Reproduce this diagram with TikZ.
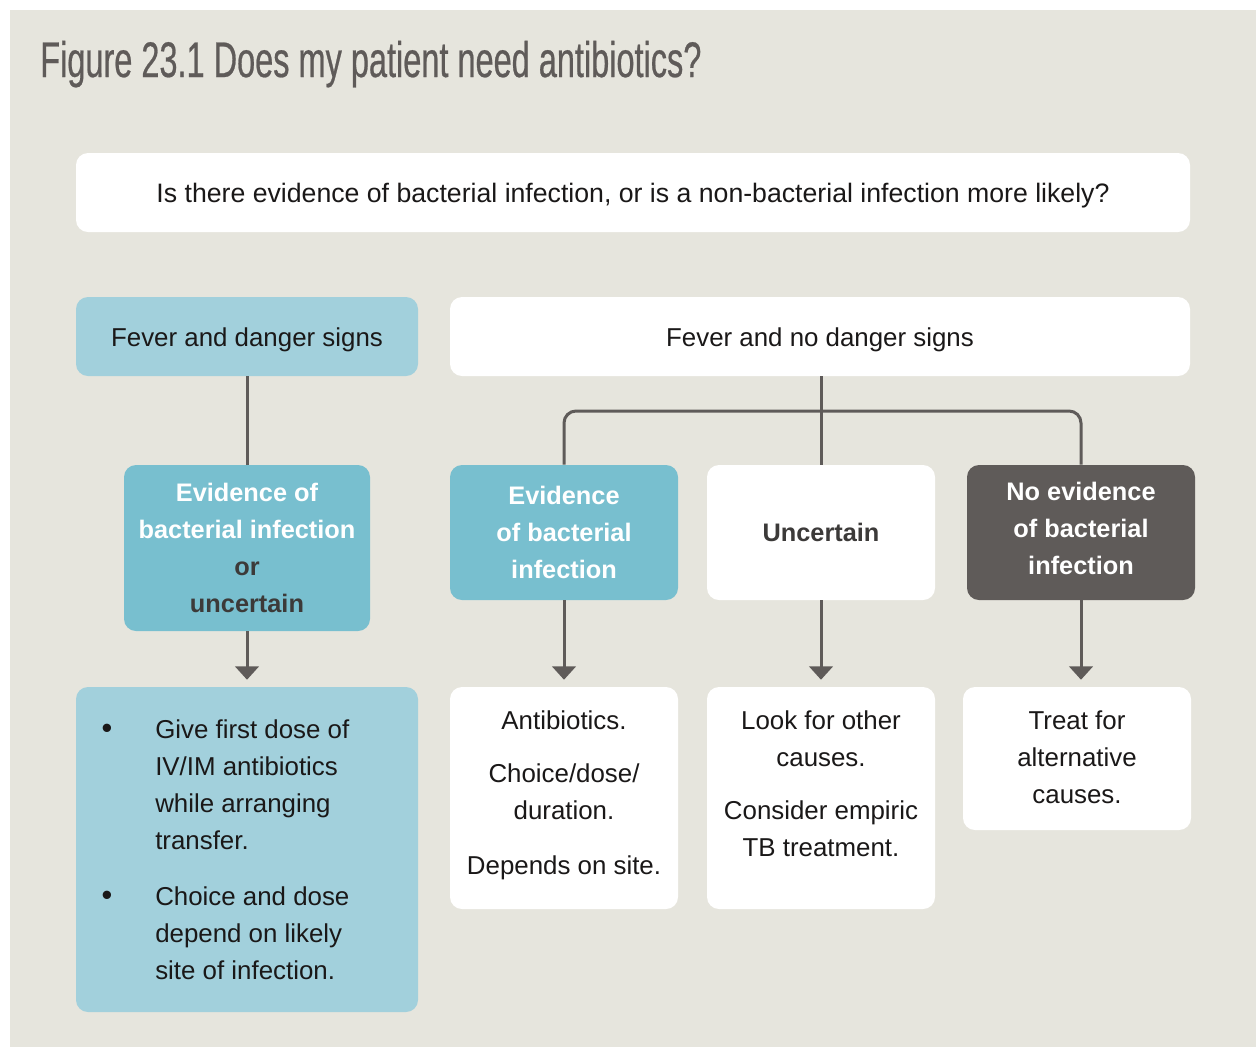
\documentclass[tikz,border=0pt]{standalone}
\usepackage{fontspec}
\setmainfont{Liberation Sans}
\newfontfamily\titlefont[FakeStretch=0.65,FakeBold=0.5]{Liberation Sans}
\usetikzlibrary{arrows.meta}
\definecolor{beige}{HTML}{E6E5DD}
\definecolor{midblue}{HTML}{78BFCF}
\definecolor{lightblue}{HTML}{A2D0DC}
\definecolor{darkgrey}{HTML}{5F5B59}
\definecolor{inkgrey}{HTML}{3C3A39}
\definecolor{ink}{HTML}{1A1818}
\begin{document}
\begin{tikzpicture}[x=0.75pt,y=-0.75pt,
  box/.style={rounded corners=9pt, inner sep=0pt, align=center,
    font=\fontsize{19.4}{27.75}\selectfont, text=ink},
  onebox/.style={box, text height=15pt, text depth=0.5pt},
  bbox/.style={box, font=\fontsize{19}{27.75}\selectfont\bfseries, text=white},
  conn/.style={draw=darkgrey, line width=2.25pt},
  arr/.style={conn, -{Triangle[width=17.5pt,length=10pt]}, shorten >=5.25pt},
  txt/.style={inner sep=0pt, anchor=north, align=center,
    font=\fontsize{19.4}{27.75}\selectfont, text=ink},
  bullet/.style={inner sep=0pt, anchor=base, text=ink, font=\fontsize{23}{27.75}\selectfont}]
\useasboundingbox (0,0) rectangle (1256,1047);
\fill[white] (0,0) rectangle (1256,1047);
\fill[beige] (10,10) rectangle (1256,1047);

\node[anchor=base west, inner sep=0pt, text=darkgrey,
  font=\titlefont\fontsize{37.5}{40}\selectfont] (title) at (40,77)
  {Figure 23.1 Does my patient need antibiotics?};

% top question
\node[onebox, fill=white, font=\fontsize{20}{27.75}\selectfont,
  minimum width=835.5pt, minimum height=59.25pt] (q) at (633,192.5)
  {Is there evidence of bacterial infection, or is a non-bacterial infection more likely?};

% second row
\node[onebox, fill=lightblue, minimum width=256.5pt, minimum height=59.25pt] (fds) at (247,336.5)
  {Fever and danger signs};
\node[onebox, fill=white, minimum width=555pt, minimum height=59.25pt] (fnd) at (820,336.5)
  {Fever and no danger signs};

% third row
\node[bbox, fill=midblue, minimum width=184.5pt, minimum height=124.5pt] (ev1) at (247,548)
  {Evidence of\\ bacterial infection\\ {\color{inkgrey}or}\\ {\color{inkgrey}uncertain}};
\node[bbox, fill=midblue, minimum width=171pt, minimum height=101.25pt] (ev2) at (564,532.5)
  {Evidence\\ of bacterial\\ infection};
\node[bbox, fill=white, text=inkgrey, minimum width=171pt, minimum height=101.25pt] (unc) at (821,532.5)
  {Uncertain};
\node[bbox, fill=darkgrey, text depth=6pt, minimum width=171pt, minimum height=101.25pt] (ne) at (1081,532.5)
  {No evidence\\ of bacterial\\ infection};

% bottom row boxes
\node[box, fill=lightblue, minimum width=256.5pt, minimum height=243.75pt] (bl) at (247,849.5) {};
\node[box, fill=white, minimum width=171pt, minimum height=166.5pt] (ab) at (564,798) {};
\node[box, fill=white, minimum width=171pt, minimum height=166.5pt] (lf) at (821,798) {};
\node[box, fill=white, minimum width=171pt, minimum height=107.25pt] (tr) at (1077,758.5) {};

% bottom row texts
\node[txt, anchor=north west, align=left] (blt) at (155,718)
  {\rule{0pt}{15pt}Give first dose of\\ IV/IM antibiotics\\ while arranging\\ transfer.\\[14.5pt]
   Choice and dose\\ depend on likely\\ site of infection.};
\node[bullet] (bul1) at (107,738) {•};
\node[bullet] (bul2) at (107,905.5) {•};
\node[txt] (abt) at (564,709)
  {\rule{0pt}{15pt}Antibiotics.\\[12.5pt] Choice/dose/\\ duration.\\[13pt] Depends on site.};
\node[txt] (lft) at (821,709)
  {\rule{0pt}{15pt}Look for other\\ causes.\\[12.5pt] Consider empiric\\ TB treatment.};
\node[txt] (trt) at (1077,709)
  {\rule{0pt}{15pt}Treat for\\ alternative\\ causes.};

% connectors
\coordinate (br) at (821,411);
\draw[conn] (fds.south) -- (ev1.north);
\draw[arr] (ev1.south) -- (bl.north);
\draw[conn] (fnd.south -| unc.north) -- (unc.north);
\draw[conn, rounded corners=9pt] (ev2.north) -- (ev2.north |- br) -- (ne.north |- br) -- (ne.north);
\draw[arr] (ev2.south) -- (ab.north);
\draw[arr] (unc.south) -- (lf.north);
\draw[arr] (ne.south) -- (ne.south |- tr.north);
\end{tikzpicture}
\end{document}
